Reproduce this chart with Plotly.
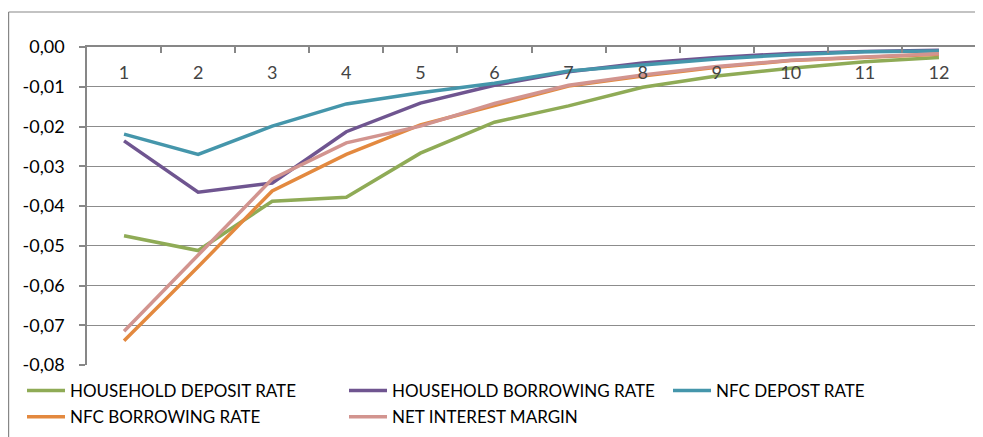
import plotly.graph_objects as go

periods = ["1", "2", "3", "4", "5", "6", "7", "8", "9", "10", "11", "12"]

household_deposit = [-0.0475, -0.0512, -0.0388, -0.0378, -0.0267, -0.0189, -0.0148, -0.0101, -0.0073, -0.0053, -0.0037, -0.0026]
household_borrowing = [-0.0236, -0.0365, -0.0342, -0.0213, -0.0141, -0.0096, -0.0062, -0.0040, -0.0026, -0.0016, -0.0011, -0.0008]
nfc_deposit = [-0.0219, -0.0270, -0.0199, -0.0143, -0.0115, -0.0091, -0.0060, -0.0045, -0.0030, -0.0019, -0.0012, -0.0010]
nfc_borrowing = [-0.0739, -0.0553, -0.0362, -0.0270, -0.0196, -0.0146, -0.0098, -0.0073, -0.0051, -0.0034, -0.0025, -0.0018]
net_interest_margin = [-0.0715, -0.0525, -0.0332, -0.0241, -0.0199, -0.0142, -0.0096, -0.0070, -0.0049, -0.0033, -0.0024, -0.0017]

y_tick_values = [0.0, -0.01, -0.02, -0.03, -0.04, -0.05, -0.06, -0.07, -0.08]
y_tick_labels = ["0,00", "-0,01", "-0,02", "-0,03", "-0,04", "-0,05", "-0,06", "-0,07", "-0,08"]

# (name, values, colour, legend column)
series = [
    ("HOUSEHOLD DEPOSIT RATE", household_deposit, "#8FAB56", "legend"),
    ("HOUSEHOLD BORROWING RATE", household_borrowing, "#6F5590", "legend2"),
    ("NFC DEPOST RATE", nfc_deposit, "#4596AB", "legend3"),
    ("NFC BORROWING RATE", nfc_borrowing, "#E3893F", "legend"),
    ("NET INTEREST MARGIN", net_interest_margin, "#D2948F", "legend2"),
]

font_family = "Lato, 'Open Sans', sans-serif"

fig = go.Figure()
for name, vals, color, leg in series:
    fig.add_trace(go.Scatter(
        x=periods, y=vals, name=name, mode="lines",
        line=dict(color=color, width=3.5),
        legend=leg, legendgroup=name,
    ))

# page body has an 8px default margin, so the figure is sized to fit the window
W, H = 975, 429
L, R, T, B = 79, 7, 39, 72
pw, ph = W - L - R, H - T - B

def px_x(p):
    return (p - L) / pw

def px_y(p):
    return (H - B - p) / ph

def leg(xpx, ytop):
    return dict(
        orientation="v",
        xref="paper", yref="paper",
        x=px_x(xpx), y=px_y(ytop), xanchor="left", yanchor="top",
        font=dict(family=font_family, size=17, color="#000000"),
        tracegroupgap=1,
        itemwidth=38,
        bgcolor="rgba(0,0,0,0)",
    )

fig.update_layout(
    width=W, height=H,
    margin=dict(l=L, r=R, t=T, b=B, autoexpand=False),
    paper_bgcolor="white", plot_bgcolor="white",
    font=dict(family=font_family, size=18, color="#000000"),
    showlegend=True,
    legend=leg(14, 365),
    legend2=leg(336, 365),
    legend3=leg(660, 365),
    xaxis=dict(
        type="category",
        side="top",
        automargin=False,
        showline=True, linecolor="#878787", linewidth=1.5,
        ticks="inside", ticklen=6, tickcolor="#878787", tickwidth=1.5,
        tickson="boundaries",
        ticklabelposition="inside",
        ticklabelstandoff=14,
        ticklabeloverflow="allow",
        showgrid=False, zeroline=False,
        tickfont=dict(size=18),
        range=[-0.5, 11.5],
    ),
    yaxis=dict(
        range=[-0.08, 0.00002],
        automargin=False,
        tickmode="array", tickvals=y_tick_values, ticktext=y_tick_labels,
        showline=True, linecolor="#878787", linewidth=1.5,
        ticks="outside", ticklen=6, tickcolor="#878787", tickwidth=1.5,
        showgrid=True, gridcolor="#8C8C8C", gridwidth=1,
        zeroline=False,
        tickfont=dict(size=18),
        ticklabelstandoff=11,
        ticklabeloverflow="allow",
    ),
    shapes=[
        dict(type="line", xref="paper", yref="paper",
             x0=px_x(0.6), x1=px_x(W + 5), y0=px_y(4), y1=px_y(4),
             line=dict(color="#878787", width=1.2)),
        dict(type="line", xref="paper", yref="paper",
             x0=px_x(0.6), x1=px_x(0.6), y0=px_y(4), y1=px_y(H + 5),
             line=dict(color="#878787", width=1.2)),
    ],
)

fig.write_html("out.html")
